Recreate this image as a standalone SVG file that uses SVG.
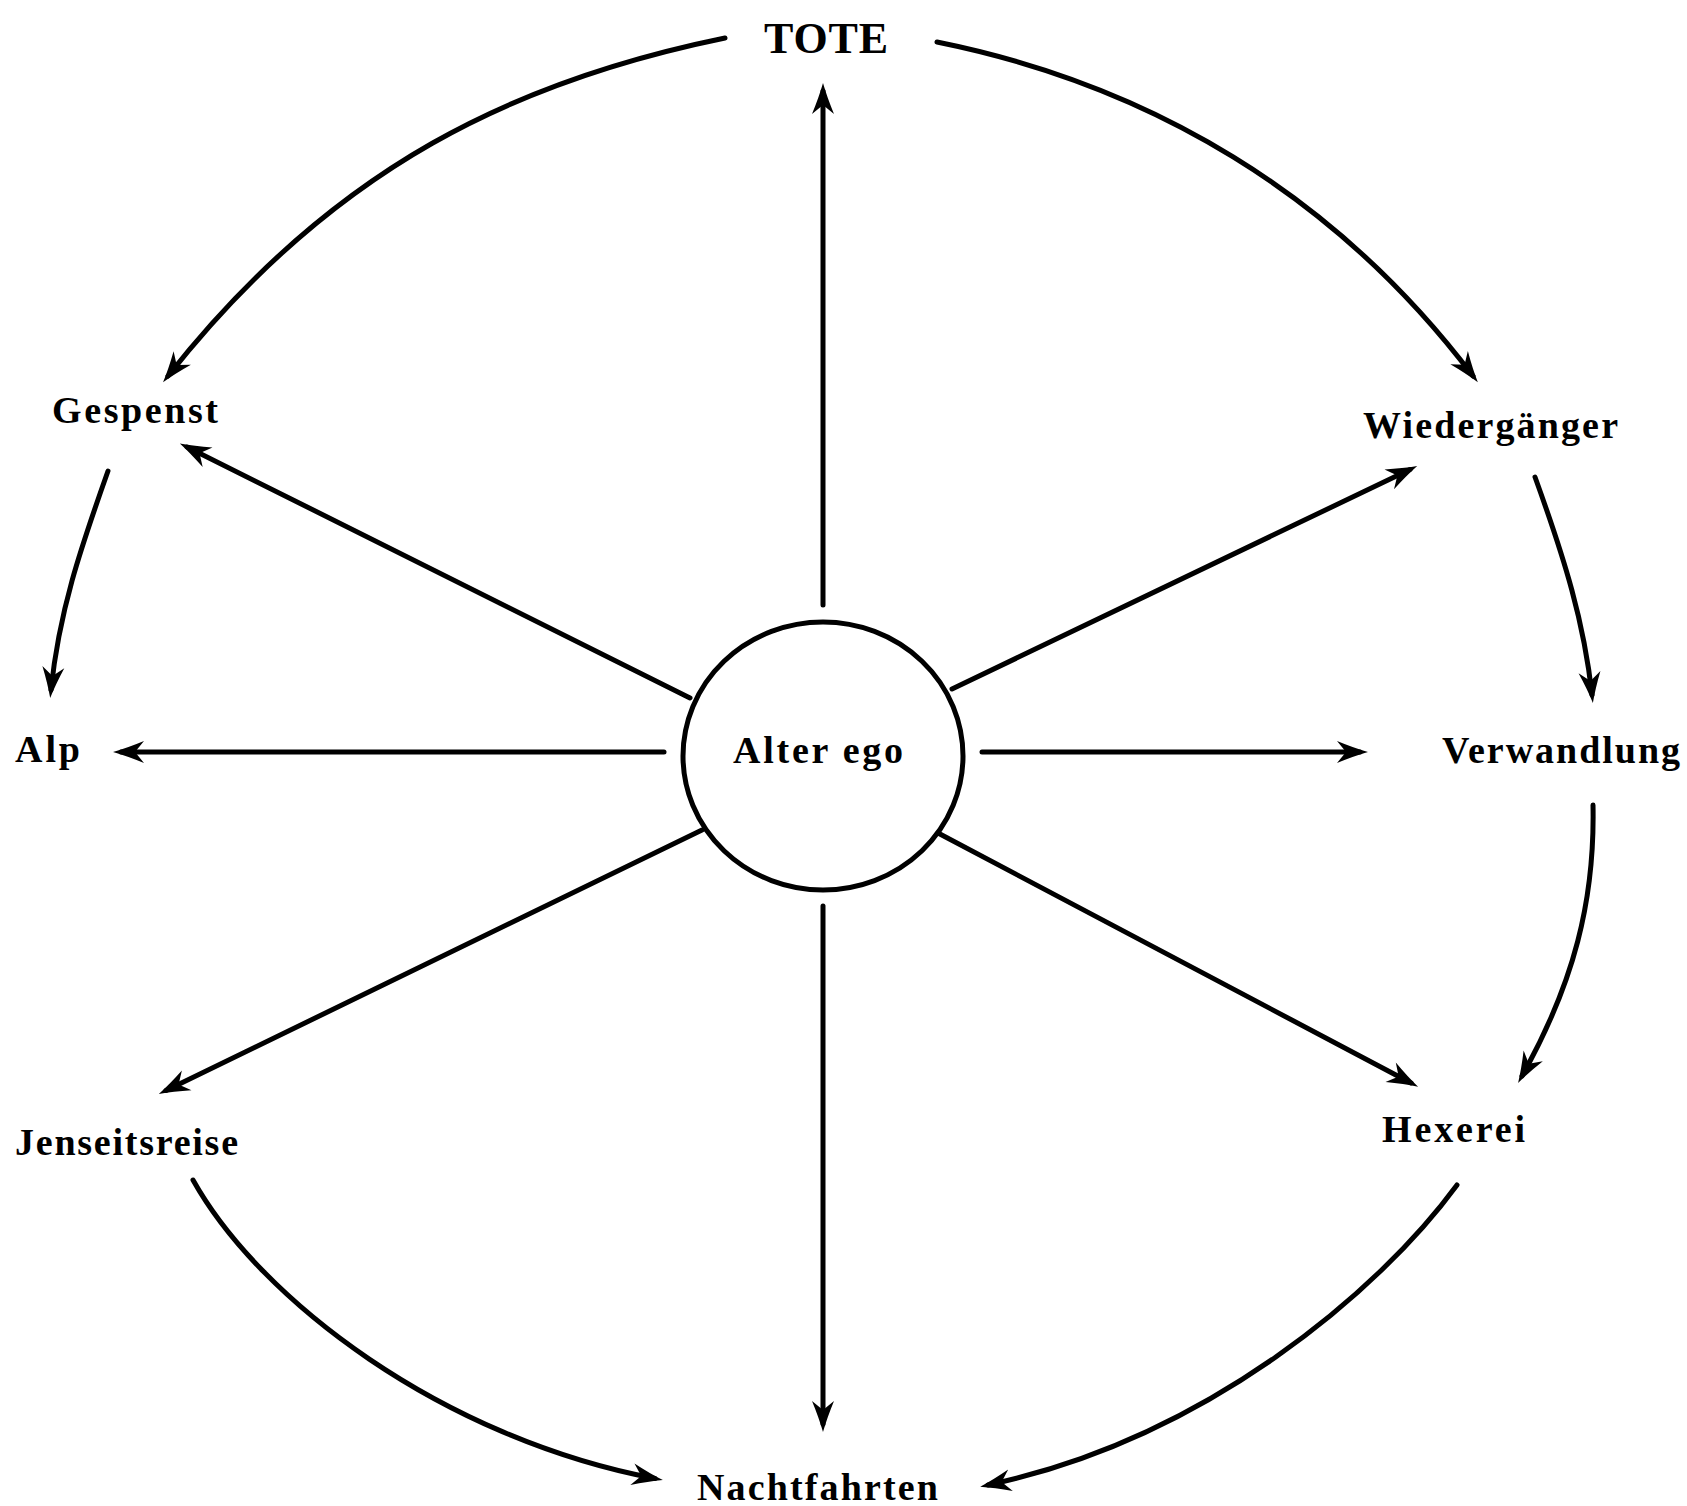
<svg xmlns="http://www.w3.org/2000/svg" width="1687" height="1506" viewBox="0 0 1687 1506">
<style>
.lbl{font-family:"Liberation Serif","Times New Roman",serif;font-size:38px;font-weight:bold;fill:#000}
.big{font-size:44px}
.edge{fill:none;stroke:#000;stroke-width:5;stroke-linecap:round}
</style>
<defs>
<marker id="ah" markerUnits="userSpaceOnUse" viewBox="-40 -15 50 30" markerWidth="50" markerHeight="30" refX="-8" refY="0" orient="auto">
<path d="M0,0 Q-14,-4 -31,-11 L-22,0 L-31,11 Q-14,4 0,0 Z" fill="#000"/>
</marker>
</defs>
<rect width="1687" height="1506" fill="#fff"/>
<g id="connectors">
<path class="edge" marker-end="url(#ah)" d="M823,605 L823,91"/>
<path class="edge" marker-end="url(#ah)" d="M823,906 L823,1424"/>
<path class="edge" marker-end="url(#ah)" d="M664,752 L121,752"/>
<path class="edge" marker-end="url(#ah)" d="M982,752 L1360,752"/>
<path class="edge" marker-end="url(#ah)" d="M690,698 L187,447"/>
<path class="edge" marker-end="url(#ah)" d="M952,689 L1410,469.5"/>
<path class="edge" marker-end="url(#ah)" d="M702,830 L166,1090.5"/>
<path class="edge" marker-end="url(#ah)" d="M938,833 L1411,1083"/>
<path class="edge" marker-end="url(#ah)" d="M725,38 C520,80 335,164 168,376"/>
<path class="edge" marker-end="url(#ah)" d="M937,42 C1150,85 1335,194 1473,376"/>
<path class="edge" marker-end="url(#ah)" d="M108,471 C80,550 59,612 51,690"/>
<path class="edge" marker-end="url(#ah)" d="M1535,477 C1565,560 1584,622 1592,695"/>
<path class="edge" marker-end="url(#ah)" d="M1593,805 C1595,900 1574,983 1522,1076"/>
<path class="edge" marker-end="url(#ah)" d="M193,1180 C260,1300 442,1438 655,1478.5"/>
<path class="edge" marker-end="url(#ah)" d="M1457,1185 C1380,1290 1208,1438 988,1485"/>
</g>
<g id="node-alterego">
<ellipse cx="823" cy="756" rx="140" ry="134" fill="#fff" stroke="#000" stroke-width="5"/>
<text class="lbl" x="733" y="763" textLength="170">Alter ego</text>
</g>
<g id="node-tote"><text class="lbl big" x="764" y="53" textLength="124">TOTE</text></g>
<g id="node-gespenst"><text class="lbl" x="52" y="423" textLength="166">Gespenst</text></g>
<g id="node-wiedergaenger"><text class="lbl" x="1363" y="438" textLength="255">Wiedergänger</text></g>
<g id="node-alp"><text class="lbl" x="15" y="762" textLength="65">Alp</text></g>
<g id="node-verwandlung"><text class="lbl" x="1442" y="763" textLength="238">Verwandlung</text></g>
<g id="node-jenseitsreise"><text class="lbl" x="15" y="1155" textLength="223">Jenseitsreise</text></g>
<g id="node-hexerei"><text class="lbl" x="1382" y="1142" textLength="143">Hexerei</text></g>
<g id="node-nachtfahrten"><text class="lbl" x="697" y="1500" textLength="241">Nachtfahrten</text></g>
</svg>
